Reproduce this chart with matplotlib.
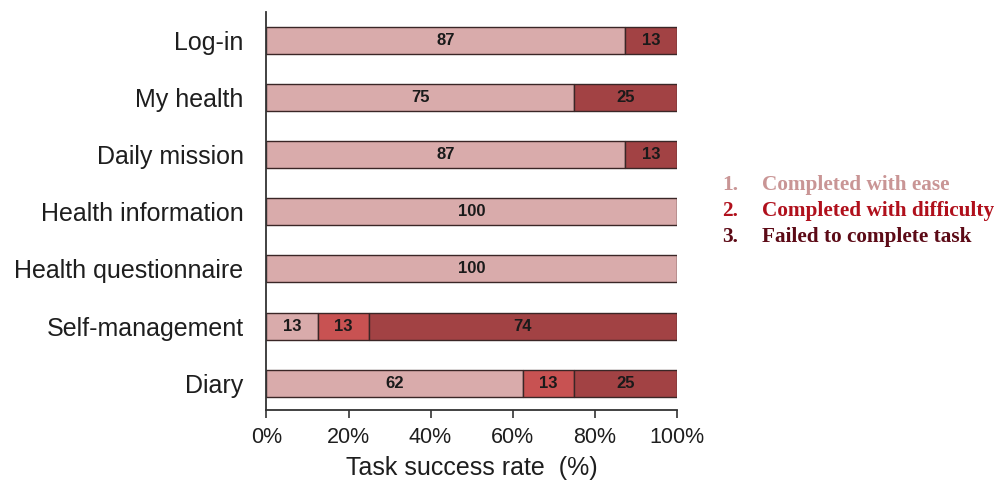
import matplotlib
matplotlib.use("Agg")
import matplotlib.pyplot as plt
import numpy as np

categories = ["Log-in", "My health", "Daily mission", "Health information",
              "Health questionnaire", "Self-management", "Diary"]
ease = [87.5, 75, 87.5, 100, 100, 12.5, 62.5]
difficulty = [0, 0, 0, 0, 0, 12.5, 12.5]
failed = [12.5, 25, 12.5, 0, 0, 75, 25]
ease_labels = ["87", "75", "87", "100", "100", "13", "62"]
difficulty_labels = ["", "", "", "", "", "13", "13"]
failed_labels = ["13", "25", "13", "", "", "74", "25"]
x_ticks = [0, 20, 40, 60, 80, 100]
x_tick_labels = ["0%", "20%", "40%", "60%", "80%", "100%"]
legend_items = ["Completed with ease", "Completed with difficulty", "Failed to complete task"]

c_ease = "#d9abab"
c_diff = "#c85252"
c_fail = "#a24244"
edge = "#3a2626"
legend_colors = ["#c99595", "#b0101c", "#5c0a16"]

plt.rcParams['font.family'] = ['Liberation Sans', 'DejaVu Sans']

fig = plt.figure(figsize=(9.98, 4.86), dpi=100)
ax = fig.add_axes([0.267, 0.156, 0.411, 0.819])

y = np.arange(len(categories))
h = 0.47
ease_a = np.array(ease, dtype=float)
diff_a = np.array(difficulty, dtype=float)
fail_a = np.array(failed, dtype=float)

series = [(ease_a, np.zeros_like(ease_a), c_ease, ease_labels),
          (diff_a, ease_a, c_diff, difficulty_labels),
          (fail_a, ease_a + diff_a, c_fail, failed_labels)]
for vals, left, col, labs in series:
    for i in range(len(categories)):
        if vals[i] <= 0:
            continue
        ax.barh(y[i], vals[i], left=left[i], height=h, color=col,
                edgecolor=edge, linewidth=1.0)
        ax.text(left[i] + vals[i] / 2, y[i], labs[i], ha="center", va="center",
                fontsize=12, fontweight="bold", color="#1a1a1a")

ax.set_xlim(0, 100)
ax.set_ylim(6.47, -0.49)
ax.set_yticks(y)
ax.set_yticklabels(categories, fontsize=18, color="#1e1e1e")
ax.set_xticks(x_ticks)
ax.set_xticklabels(x_tick_labels, fontsize=15.5, color="#1e1e1e")
ax.tick_params(axis="y", length=0, pad=16.5)
ax.tick_params(axis="x", length=6, width=1.2, color="#333333", pad=6)
ax.set_xlabel("Task success rate  (%)", fontsize=18, color="#1e1e1e", labelpad=6)
for s in ["top", "right"]:
    ax.spines[s].set_visible(False)
for s in ["left", "bottom"]:
    ax.spines[s].set_color("#333333")
    ax.spines[s].set_linewidth(1.3)

for k, (txt, col) in enumerate(zip(legend_items, legend_colors)):
    ypos = 1 - (185 + 26 * k) / 486
    fig.text(722 / 998, ypos, f"{k+1}.", fontsize=15.3, fontweight="bold", color=col,
             family="Liberation Serif", va="center", ha="left")
    fig.text(762 / 998, ypos, txt, fontsize=15.3, fontweight="bold", color=col,
             family="Liberation Serif", va="center", ha="left")

fig.savefig("out.png", dpi=100)
